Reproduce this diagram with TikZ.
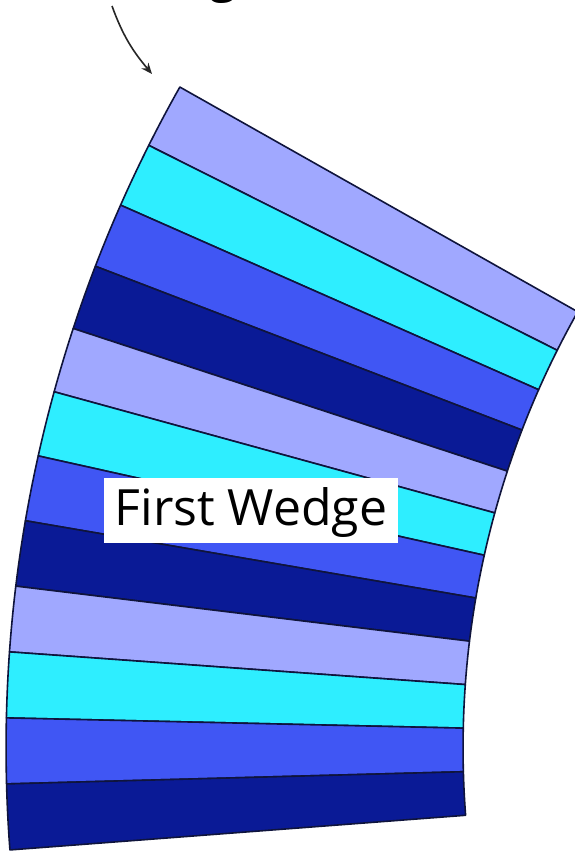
\documentclass[tikz,border=0pt]{standalone}
\usepackage{fontspec}
\setmainfont{Open Sans}
\usetikzlibrary{arrows.meta}
\definecolor{cLight}{RGB}{160,168,255}
\definecolor{cCyan}{RGB}{46,238,255}
\definecolor{cMid}{RGB}{64,86,244}
\definecolor{cDark}{RGB}{10,26,150}
\definecolor{cEdge}{RGB}{15,20,60}
\tikzset{
  strip/.style={draw=cEdge, line width=1.6pt, line join=round},
  pointer/.style={-{Stealth[length=11pt,width=9pt]}, line width=1.6pt, draw=black!85},
  lbl/.style={fill=white, font=\fontsize{50}{50}\selectfont, inner xsep=0pt, inner ysep=0pt,
    minimum width=294pt, text height=47pt, text depth=18pt, anchor=base}
}
\newcommand{\stripband}[3]{%
  \fill[#3] (#1:1344pt) arc[start angle=#1, end angle=#2, radius=1344pt]
    -- (#2:887pt) arc[start angle=#2, end angle=#1, radius=887pt] -- cycle;
  \draw[strip] (#1:1344pt) arc[start angle=#1, end angle=#2, radius=1344pt]
    -- (#2:887pt) arc[start angle=#2, end angle=#1, radius=887pt] -- cycle;}
\begin{document}
\begin{tikzpicture}[x=1pt,y=1pt]
\clip (0,0) rectangle (575,-854);
\fill[white] (0,0) rectangle (575,-854);
% cut-off caption above
\node[font=\fontsize{50}{50}\selectfont, anchor=base] (cap) at (223,9) {g};
\begin{scope}[shift={(1350,-748)}]
\foreach \i/\c in {0/cLight,1/cCyan,2/cMid,3/cDark,4/cLight,5/cCyan,6/cMid,7/cDark,8/cLight,9/cCyan,10/cMid,11/cDark}{
  \pgfmathsetmacro{\aa}{150.54+2.8175*\i}
  \pgfmathsetmacro{\ab}{150.54+2.8175*(\i+1)}
  \stripband{\aa}{\ab}{fill=\c}
}
\coordinate (corner) at (150.54:1344pt);
\end{scope}
\coordinate (tail) at (112,-6);
\coordinate (head) at (152,-74);
\draw[pointer] (tail) to[out=-70, in=130] (head);
\node[lbl] (first) at (251,-525) {First Wedge};
\end{tikzpicture}
\end{document}
